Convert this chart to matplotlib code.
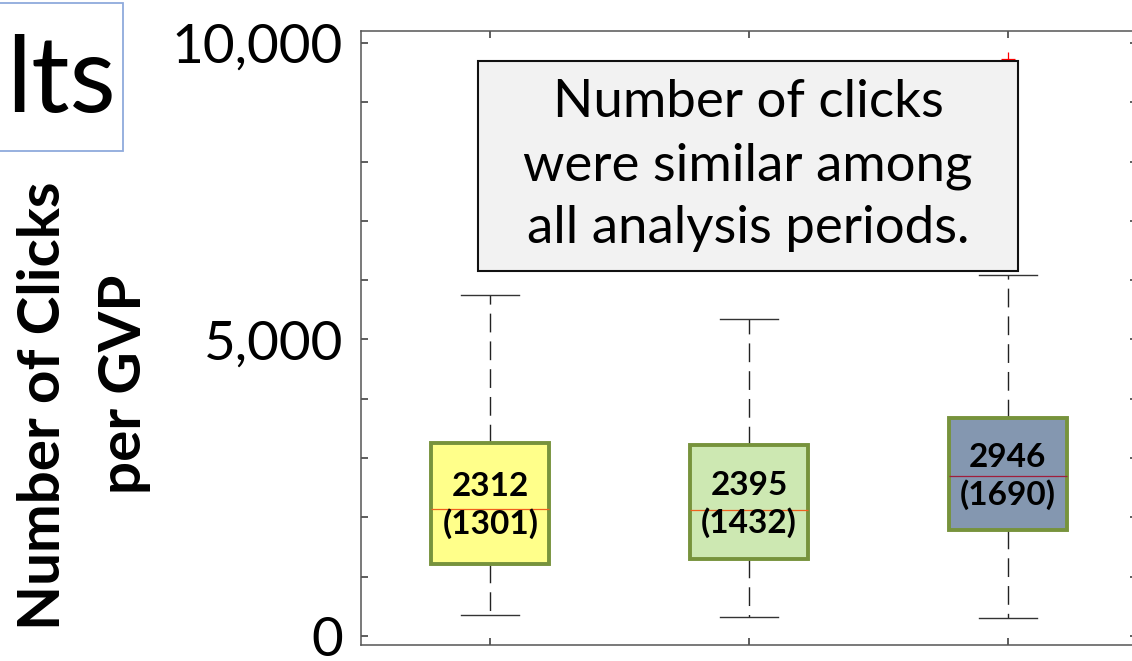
import matplotlib
matplotlib.use("Agg")
import matplotlib.pyplot as plt
from matplotlib.patches import Rectangle

# Box statistics for the three analysis periods (clicks per GVP)
periods = ["Period 1", "Period 2", "Period 3"]
q1 = [1214, 1293, 1788]
medians = [2140, 2125, 2703]
q3 = [3260, 3221, 3671]
whisker_low = [354, 326, 309]
whisker_high = [5750, 5346, 6088]
outliers = [[], [], [9735]]

# Mean and SD printed inside each box
means = [2312, 2395, 2946]
sds = [1301, 1432, 1690]

box_fills = ["#FFFF8A", "#CDE8B2", "#8497B0"]
median_colors = ["#F0601E", "#F0601E", "#A01E3C"]
edge_green = "#77933C"

W, H = 1132, 661
fig = plt.figure(figsize=(W / 100, H / 100), dpi=100)
ax = fig.add_axes([361 / W, 16 / H, 776 / W, 614 / H])

stats = []
for i in range(3):
    stats.append(dict(med=medians[i], q1=q1[i], q3=q3[i],
                      whislo=whisker_low[i], whishi=whisker_high[i],
                      fliers=outliers[i], label=periods[i]))

bp = ax.bxp(stats, positions=[1, 2, 3], widths=0.455, capwidths=0.224,
            patch_artist=True, showfliers=True,
            whiskerprops=dict(color="#222222", linewidth=1.0,
                              linestyle=(0, (13.5, 6.5))),
            capprops=dict(color="#333333", linewidth=1.0),
            flierprops=dict(marker="+", markeredgecolor="red",
                            markersize=10, markeredgewidth=0.9))

for i, box in enumerate(bp["boxes"]):
    box.set_facecolor(box_fills[i])
    box.set_edgecolor(edge_green)
    box.set_linewidth(2.8)
    box.set_zorder(3)
for i, med in enumerate(bp["medians"]):
    med.set_color(median_colors[i])
    med.set_linewidth(0.9)
    med.set_zorder(4)

# thin blue edges peeking out along box 1 bottom and box 3 top
ax.hlines([q1[0]], 1 - 0.2275, 1 + 0.2275, color="#1020D0", lw=1.0, zorder=2.5)
ax.hlines([q3[2]], 3 - 0.2275, 3 + 0.2275, color="#1020D0", lw=1.0, zorder=2.5)

for i in range(3):
    ax.text(i + 1, (q1[i] + q3[i]) / 2 - 40, f"{means[i]}\n({sds[i]})",
            ha="center", va="center", fontsize=24, fontweight="bold",
            family="Lato", linespacing=1.3, zorder=5)

ax.set_xlim(0.5, 3.5)
ax.set_ylim(-152, 10202)

yt = list(range(0, 10001, 1000))
ax.set_yticks(yt)
ax.set_yticklabels([f"{v:,}" if v % 5000 == 0 else "" for v in yt],
                   fontsize=39.5, family="Lato")
ax.set_xticks([1, 2, 3])
ax.set_xticklabels([])
ax.tick_params(axis="both", direction="in", length=5, width=1.1,
               color="#333333", top=True, right=True)
ax.tick_params(axis="y", pad=13)
for sp in ax.spines.values():
    sp.set_color("#555555")
    sp.set_linewidth(1.1)

# y-axis title, two rotated lines
fig.text(60 / W, 1 - 406 / H, "Number of Clicks", rotation=90,
         rotation_mode="anchor", ha="center", va="baseline",
         fontsize=42, fontweight="bold", family="Lato")
fig.text(141 / W, 1 - 384 / H, "per GVP", rotation=90,
         rotation_mode="anchor", ha="center", va="baseline",
         fontsize=42, fontweight="bold", family="Lato")

# slide title fragment in its outlined box
fig.patches.append(Rectangle((-10 / W, 1 - 151 / H), 133 / W, 148 / H,
                             transform=fig.transFigure, fill=False,
                             edgecolor="#8FAADC", lw=1.3))
fig.text(6 / W, 1 - 112 / H, "lts", ha="left", va="baseline",
         fontsize=77, family="Lato")

# callout box
fig.patches.append(Rectangle((478 / W, 1 - 271 / H), 540 / W, 210 / H,
                             transform=fig.transFigure, facecolor="#F2F2F2",
                             edgecolor="#111111", lw=1.5, zorder=6))
callout = ["Number of clicks", "were similar among", "all analysis periods."]
for line, base in zip(callout, [117, 180, 243]):
    fig.text(748 / W, 1 - base / H, line, ha="center", va="baseline",
             fontsize=38, family="Lato", zorder=7)

fig.savefig("out.png", dpi=100)
